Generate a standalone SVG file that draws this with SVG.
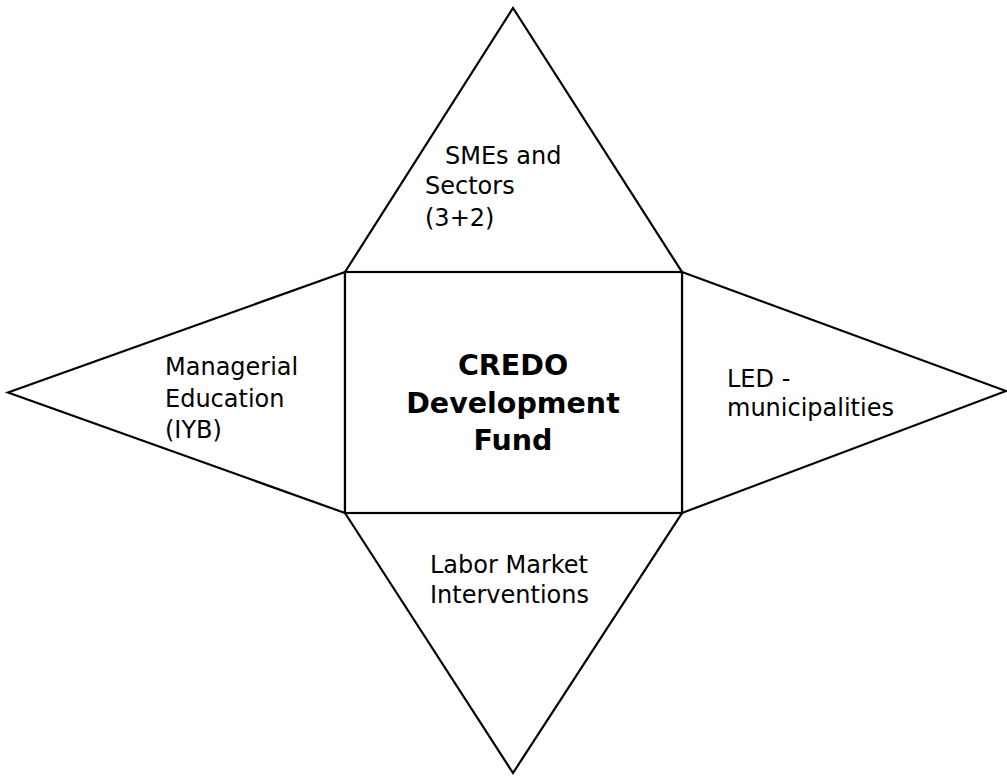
<svg xmlns="http://www.w3.org/2000/svg" width="1007" height="776" viewBox="0 0 1007 776">
  <style>
    .shape { fill: #ffffff; stroke: #000000; stroke-width: 2.2; stroke-linejoin: miter; }
    .lbl { font-family: "DejaVu Sans", Verdana, sans-serif; font-size: 24px; fill: #000000; }
    .core { font-family: "DejaVu Sans", Verdana, sans-serif; font-size: 28.5px; font-weight: bold; fill: #000000; text-anchor: middle; }
  </style>
  <rect width="1007" height="776" fill="#ffffff"/>

  <g id="top-smes">
    <polygon class="shape" points="345,272 513,8 682,272"/>
    <text class="lbl"><tspan x="445" y="164">SMEs and</tspan><tspan x="425" y="194">Sectors</tspan><tspan x="425" y="226">(3+2)</tspan></text>
  </g>

  <g id="left-managerial">
    <polygon class="shape" points="345,272 8,392.5 345,513"/>
    <text class="lbl"><tspan x="165" y="375">Managerial</tspan><tspan x="165" y="407">Education</tspan><tspan x="165" y="438">(IYB)</tspan></text>
  </g>

  <g id="right-led">
    <polygon class="shape" points="682,272 1006,391 682,513"/>
    <text class="lbl"><tspan x="727" y="387">LED -</tspan><tspan x="727" y="416">municipalities</tspan></text>
  </g>

  <g id="bottom-labor">
    <polygon class="shape" points="345,513 513,773 682,513"/>
    <text class="lbl"><tspan x="430" y="573">Labor Market</tspan><tspan x="430" y="603">Interventions</tspan></text>
  </g>

  <g id="center-credo">
    <rect class="shape" x="345" y="272" width="337" height="241"/>
    <text class="core"><tspan x="513" y="375">CREDO</tspan><tspan x="513" y="413">Development</tspan><tspan x="513" y="450">Fund</tspan></text>
  </g>

  <g id="connectors"/>
</svg>
